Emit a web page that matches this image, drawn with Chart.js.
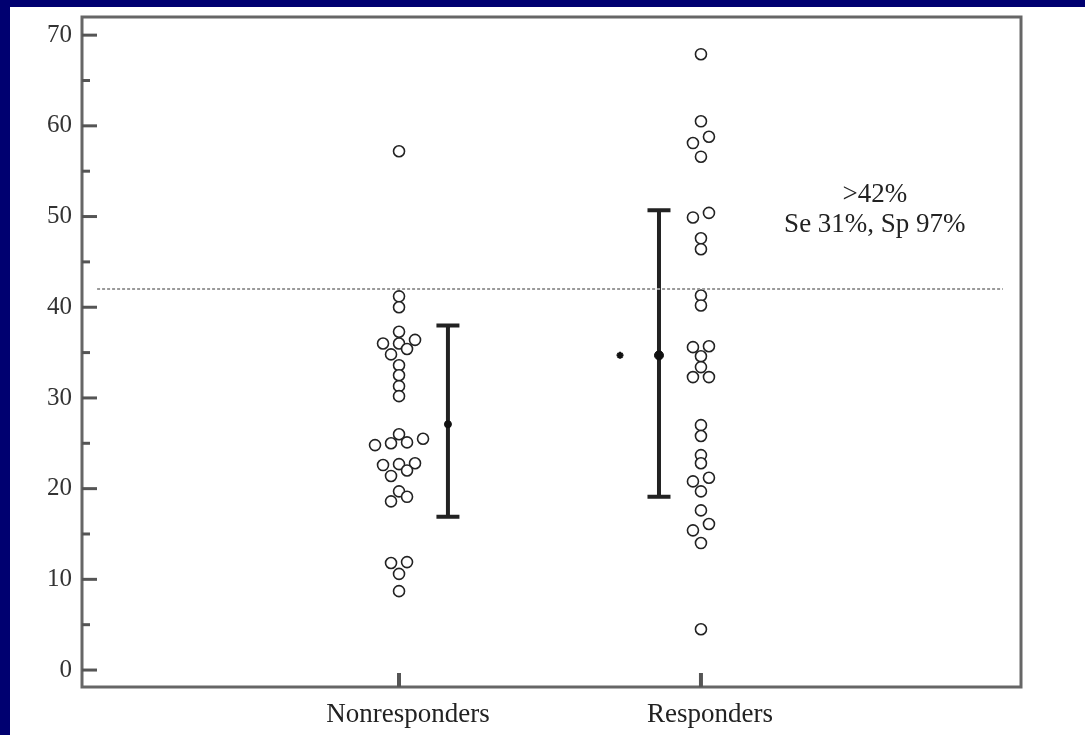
<!DOCTYPE html>
<html>
<head>
<meta charset="utf-8">
<script src="https://cdn.jsdelivr.net/npm/chart.js@4/dist/chart.umd.min.js"></script>
<style>
    html, body { margin: 0; padding: 0; background: #000070; overflow: hidden; }
    #panel { position: absolute; left: 10px; top: 7px; width: 1075px; height: 728px; background: #fff; }
    canvas { display: block; }
</style>
</head>
<body>
<div id="panel"><canvas id="dotplot" width="1075" height="728"></canvas></div>
<script>
/* global Chart */
const groups = ["Nonresponders", "Responders"];

// individual values (slot = side-by-side column of the dot)
const nonresponders = [
    57.2, 41.2, 40.0, 37.3, 36.0, 36.0, 36.4, 35.4, 34.8, 33.6, 32.5, 31.3, 30.2,
    24.8, 25.0, 26.0, 25.1, 25.5, 22.6, 22.7, 22.8, 22.0, 21.4, 19.7, 19.1, 18.6,
    11.8, 11.9, 10.6, 8.7,
];
const nonrespondersSlot = [
    0, 0, 0, 0, -2, 0, 2, 1, -1, 0, 0, 0, 0,
    -3, -1, 0, 1, 3, -2, 0, 2, 1, -1, 0, 1, -1,
    -1, 1, 0, 0,
];
const responders = [
    67.9, 60.5, 58.8, 58.1, 56.6, 49.9, 50.4, 47.6, 46.4,
    41.3, 40.2, 35.6, 35.7, 34.6, 33.4, 32.3, 32.3,
    27.0, 25.8, 23.7, 22.8, 20.8, 21.2, 19.7, 17.6, 16.1, 15.4, 14.0, 4.5,
];
const respondersSlot = [
    0, 0, 1, -1, 0, -1, 1, 0, 0,
    0, 0, -1, 1, 0, 0, -1, 1,
    0, 0, 0, 0, -1, 1, 0, 0, 1, -1, 0, 0,
];

// mean and range bars
const groupMean = [27.1, 34.7];
const groupLow = [16.9, 19.1];
const groupHigh = [38.0, 50.7];

const cutoff = 42;
const cutoffText = [">42%", "Se 31%, Sp 97%"];
const yTicks = [0, 10, 20, 30, 40, 50, 60, 70];

const slotWidth = 0.0265;
const barOffset = [0.162, -0.139];
const serif = "'Liberation Serif', 'DejaVu Serif', serif";

function dots(values, slots, group) {
    return values.map((v, i) => ({ x: group + slots[i] * slotWidth, y: v }));
}

const decorations = {
    id: "decorations",
    beforeDatasetsDraw(chart) {
        const ctx = chart.ctx;
        const xs = chart.scales.x;
        const ys = chart.scales.y;
        ctx.save();
        ctx.strokeStyle = "#222";
        ctx.lineWidth = 4;
        ctx.lineCap = "butt";
        groups.forEach((g, i) => {
            const x = xs.getPixelForValue(i + 1 + barOffset[i]);
            const top = ys.getPixelForValue(groupHigh[i]);
            const bot = ys.getPixelForValue(groupLow[i]);
            ctx.beginPath();
            ctx.moveTo(x, top);
            ctx.lineTo(x, bot);
            ctx.moveTo(x - 11.5, top);
            ctx.lineTo(x + 11.5, top);
            ctx.moveTo(x - 11.5, bot);
            ctx.lineTo(x + 11.5, bot);
            ctx.stroke();
        });
        ctx.restore();
    },
    afterDraw(chart) {
        const ctx = chart.ctx;
        const area = chart.chartArea;
        const xs = chart.scales.x;
        const ys = chart.scales.y;
        ctx.save();
        // frame
        ctx.strokeStyle = "#666";
        ctx.lineWidth = 3;
        ctx.strokeRect(area.left, area.top, area.right - area.left, area.bottom - area.top);
        // inward ticks
        ctx.strokeStyle = "#555";
        for (let v = 0; v <= 70; v += 5) {
            const y = ys.getPixelForValue(v);
            ctx.lineWidth = 3;
            ctx.beginPath();
            ctx.moveTo(area.left, y);
            ctx.lineTo(area.left + (v % 10 === 0 ? 15 : 8), y);
            ctx.stroke();
        }
        groups.forEach((g, i) => {
            const x = xs.getPixelForValue(i + 1);
            ctx.lineWidth = 4;
            ctx.beginPath();
            ctx.moveTo(x, area.bottom);
            ctx.lineTo(x, area.bottom - 14);
            ctx.stroke();
        });
        // cutoff annotation
        ctx.fillStyle = "#222";
        ctx.font = "27px " + serif;
        ctx.textAlign = "center";
        ctx.textBaseline = "middle";
        ctx.fillText(cutoffText[0], xs.getPixelForValue(2.576), ys.getPixelForValue(52.4));
        ctx.fillText(cutoffText[1], xs.getPixelForValue(2.576), ys.getPixelForValue(49.1));
        ctx.restore();
    },
};

const pointStyle = {
    type: "scatter",
    pointStyle: "circle",
    pointRadius: 5.5,
    pointBorderWidth: 1.6,
    pointBorderColor: "#222",
    pointBackgroundColor: "#fff",
    showLine: false,
};

new Chart(document.getElementById("dotplot").getContext("2d"), {
    data: {
        datasets: [
            {
                type: "line",
                label: "cutoff",
                data: [{ x: 0, y: cutoff }, { x: 3, y: cutoff }],
                borderColor: "#9a9a9a",
                borderWidth: 2,
                borderDash: [3, 2],
                pointRadius: 0,
            },
            Object.assign({ label: groups[0], data: dots(nonresponders, nonrespondersSlot, 1) }, pointStyle),
            Object.assign({ label: groups[1], data: dots(responders, respondersSlot, 2) }, pointStyle),
            {
                type: "scatter",
                label: "mean",
                data: groupMean.map((m, i) => ({ x: i + 1 + barOffset[i], y: m })),
                pointRadius: [3.5, 4.5],
                pointBackgroundColor: "#111",
                pointBorderColor: "#111",
            },
            {
                type: "scatter",
                label: "star",
                data: [{ x: 1.732, y: groupMean[1] }],
                pointStyle: "star",
                pointRadius: 3.5,
                pointBorderWidth: 2,
                pointBorderColor: "#111",
            },
        ],
    },
    options: {
        responsive: false,
        animation: false,
        devicePixelRatio: 1,
        layout: { padding: { left: 0, right: 64, top: 10, bottom: 0 } },
        plugins: { legend: { display: false }, tooltip: { enabled: false } },
        scales: {
            x: {
                type: "linear",
                min: -0.05,
                max: 3.06,
                afterBuildTicks: (s) => { s.ticks = groups.map((g, i) => ({ value: i + 1 })); },
                afterFit: (s) => {
                    s.height = 48;
                    s.paddingLeft = 0;
                    s.paddingRight = 0;
                },
                grid: { display: false, drawTicks: false },
                border: { display: false },
                ticks: {
                    callback: (v) => groups[v - 1],
                    color: "#222",
                    font: { family: serif, size: 27 },
                    padding: 12,
                    labelOffset: 9,
                    maxRotation: 0,
                },
            },
            y: {
                min: -1.87,
                max: 72,
                afterBuildTicks: (s) => { s.ticks = yTicks.map((v) => ({ value: v })); },
                afterFit: (s) => {
                    s.width = 72;
                    s.paddingTop = 0;
                    s.paddingBottom = 0;
                },
                grid: { display: false, drawTicks: false },
                border: { display: false },
                ticks: {
                    color: "#333",
                    font: { family: serif, size: 25 },
                    padding: 10,
                },
            },
        },
    },
    plugins: [decorations],
});
</script>
</body>
</html>
